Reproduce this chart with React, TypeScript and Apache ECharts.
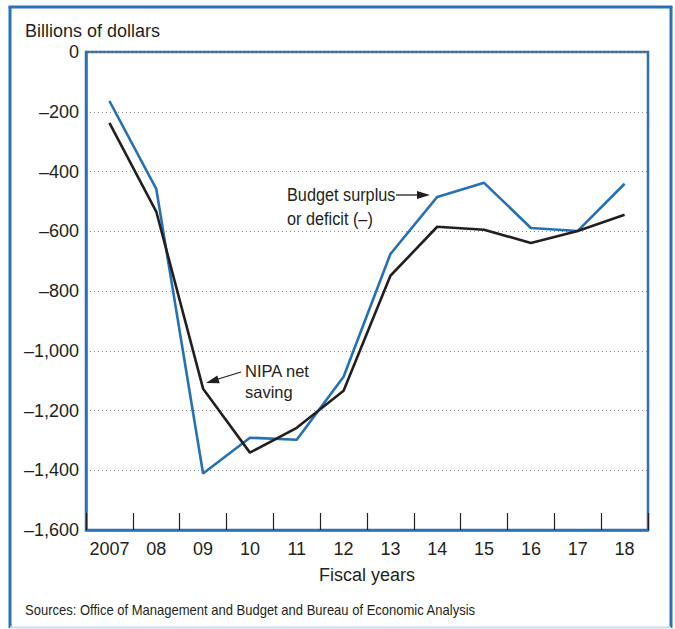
import React, { useEffect, useRef } from "react";
import * as echarts from "echarts";

const years = ["2007", "08", "09", "10", "11", "12", "13", "14", "15", "16", "17", "18"];
const budgetSurplus = [-164, -458, -1411, -1291, -1298, -1087, -676, -485, -438, -589, -599, -441];
const nipaNetSaving = [-237, -534, -1127, -1341, -1258, -1134, -749, -585, -595, -639, -599, -545];
const yMin = -1600;
const yMax = 0;
const yStep = 200;

const BLUE = "#2471b5";
const FRAME = "#2a72b8";
const BLACK = "#231f20";
const FONT = "'Liberation Sans', Arial, sans-serif";

function fmt(v: number): string {
  if (v === 0) return "0";
  const s = Math.abs(v).toLocaleString("en-US");
  return (v < 0 ? "\u2013" : "") + s;
}

export default function App() {
  const ref = useRef<HTMLDivElement>(null);
  useEffect(() => {
    if (!ref.current) return;
    const chart = echarts.init(ref.current, undefined, { renderer: "svg" });
    chart.setOption({
      animation: false,
      backgroundColor: "#ffffff",
      grid: {
        left: 86,
        top: 52,
        width: 562,
        height: 478,
        show: true,
        borderColor: FRAME,
        borderWidth: 2.5,
        backgroundColor: "transparent",
      },
      xAxis: {
        type: "category",
        data: years,
        boundaryGap: true,
        position: "bottom",
        axisLine: { show: true, onZero: false, lineStyle: { color: FRAME, width: 2.5 } },
        axisTick: {
          show: true,
          inside: true,
          length: 17,
          interval: 0,
          alignWithLabel: false,
          lineStyle: { color: BLACK, width: 1.2 },
        },
        axisLabel: {
          interval: 0,
          margin: 10,
          color: BLACK,
          fontSize: 18,
          fontFamily: FONT,
        },
        splitLine: { show: false },
      },
      yAxis: {
        type: "value",
        min: yMin,
        max: yMax,
        interval: yStep,
        axisLine: { show: true, lineStyle: { color: FRAME, width: 2.5 } },
        axisTick: { show: false },
        axisLabel: {
          margin: 7,
          color: BLACK,
          fontSize: 18,
          fontFamily: FONT,
          formatter: (v: number) => fmt(v),
        },
        splitLine: {
          show: true,
          lineStyle: { color: "#8a8a8a", width: 1, type: [1, 3] },
        },
      },
      series: [
        {
          name: "Budget surplus or deficit (–)",
          type: "line",
          data: budgetSurplus,
          symbol: "none",
          lineStyle: { color: BLUE, width: 2.6 },
          z: 3,
        },
        {
          name: "NIPA net saving",
          type: "line",
          data: nipaNetSaving,
          symbol: "none",
          lineStyle: { color: BLACK, width: 2.6 },
          z: 4,
        },
      ],
      graphic: [
        // outer frame
        { type: "line", shape: { x1: 10, y1: 7, x2: 10, y2: 628 }, style: { stroke: FRAME, lineWidth: 3 } },
        { type: "line", shape: { x1: 8.5, y1: 7, x2: 672.5, y2: 7 }, style: { stroke: FRAME, lineWidth: 3 } },
        { type: "line", shape: { x1: 671, y1: 7, x2: 671, y2: 628 }, style: { stroke: FRAME, lineWidth: 3 } },
        { type: "line", shape: { x1: 10, y1: 627.5, x2: 671, y2: 627.5 }, style: { stroke: "#c6dff1", lineWidth: 2 } },
        {
          type: "text",
          x: 25,
          y: 31,
          style: { text: "Billions of dollars", fill: BLACK, font: `18px ${FONT}`, align: "left", verticalAlign: "middle" },
        },
        {
          type: "text",
          x: 367,
          y: 575,
          style: { text: "Fiscal years", fill: BLACK, font: `18px ${FONT}`, align: "center", verticalAlign: "middle" },
        },
        {
          type: "text",
          x: 25,
          y: 610,
          scaleX: 0.93,
          style: {
            text: "Sources: Office of Management and Budget and Bureau of Economic Analysis",
            fill: BLACK,
            font: `14px ${FONT}`,
            align: "left",
            verticalAlign: "middle",
          },
        },
        // Budget annotation
        {
          type: "text",
          x: 287,
          y: 195,
          scaleX: 0.93,
          z: 10,
          style: { text: "Budget surplus", fill: BLACK, font: `17.5px ${FONT}`, align: "left", verticalAlign: "middle" },
        },
        {
          type: "text",
          x: 287,
          y: 219,
          scaleX: 0.93,
          z: 10,
          style: { text: "or deficit (\u2013)", fill: BLACK, font: `17.5px ${FONT}`, align: "left", verticalAlign: "middle" },
        },
        { type: "line", z: 10, shape: { x1: 396, y1: 195, x2: 420, y2: 195 }, style: { stroke: BLACK, lineWidth: 1.3 } },
        { type: "polygon", z: 10, shape: { points: [[430, 195], [417, 191], [417, 199]] }, style: { fill: BLACK } },
        // NIPA annotation
        {
          type: "text",
          x: 245,
          y: 371,
          z: 10,
          style: { text: "NIPA net", fill: BLACK, font: `16.5px ${FONT}`, align: "left", verticalAlign: "middle" },
        },
        {
          type: "text",
          x: 245,
          y: 392,
          z: 10,
          style: { text: "saving", fill: BLACK, font: `16.5px ${FONT}`, align: "left", verticalAlign: "middle" },
        },
        { type: "line", z: 10, shape: { x1: 241, y1: 372, x2: 215, y2: 380 }, style: { stroke: BLACK, lineWidth: 1.3 } },
        { type: "polygon", z: 10, shape: { points: [[206, 383], [217.3, 375.6], [219.7, 383.2]] }, style: { fill: BLACK } },
      ],
    });
    return () => chart.dispose();
  }, []);
  return (
    <div
      ref={ref}
      style={{ position: "fixed", left: 0, top: 0, width: 675, height: 629, background: "#fff" }}
    />
  );
}
